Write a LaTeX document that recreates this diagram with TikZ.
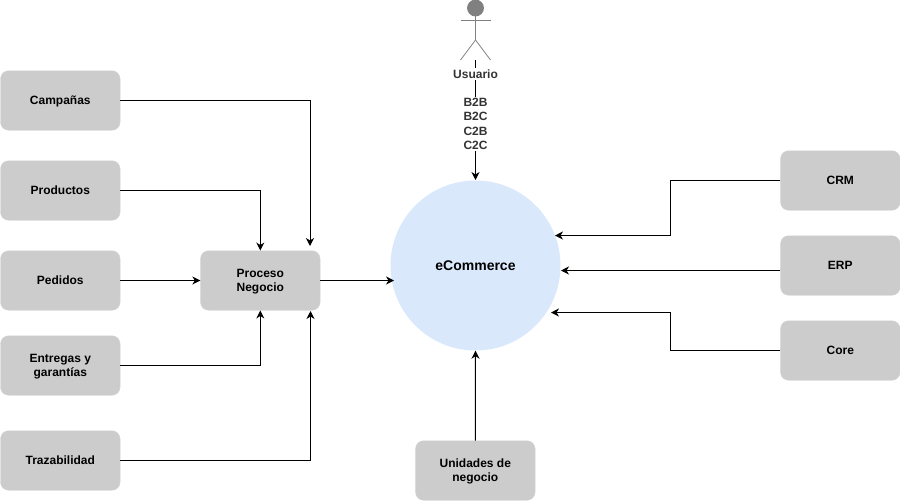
\documentclass[tikz,border=0pt]{standalone}
\usepackage{fontspec}
\setmainfont{Liberation Sans}
\usetikzlibrary{arrows.meta}
\definecolor{boxgray}{HTML}{CCCCCC}
\definecolor{boxline}{HTML}{D4D4D4}
\definecolor{circleblue}{HTML}{DAE8FC}
\definecolor{actorgray}{HTML}{808080}
\definecolor{labelgray}{HTML}{333333}
\newcommand{\lowerline}{\rule{0pt}{11pt}}
\tikzset{
  x=1pt, y=-1pt,
  sysbox/.style={draw=boxline, fill=boxgray, rounded corners=8pt, minimum width=119.5pt,
    minimum height=59.5pt, align=center, inner sep=0pt, font=\fontsize{12}{14.5}\selectfont\bfseries},
  link/.style={draw=black, line width=1pt, -{Stealth[length=8pt,width=8pt,inset=2.5pt]}},
  actorline/.style={draw=actorgray, line width=0.8pt},
  linklabel/.style={fill=white, inner sep=1pt, align=center, text=labelgray,
    font=\fontsize{12}{14.5}\selectfont\bfseries}
}
\begin{document}
\begin{tikzpicture}

    \useasboundingbox (0,0) rectangle (900,501);

    % left column
    \node[sysbox] (campanas) at (60.3,100.5) {\lowerline Campañas};
    \node[sysbox] (productos) at (60.3,190.5) {Productos};
    \node[sysbox] (pedidos) at (60.3,280.5) {Pedidos};
    \node[sysbox] (entregas) at (60.3,365.5) {\lowerline Entregas y\\garantías};
    \node[sysbox] (trazabilidad) at (60.3,460.5) {Trazabilidad};

    \node[sysbox] (proceso) at (260.3,280.5) {\lowerline Proceso\\Negocio};

    % right column
    \node[sysbox] (crm) at (840.3,180.5) {CRM};
    \node[sysbox] (erp) at (840.3,265.5) {ERP};
    \node[sysbox] (core) at (840.3,350.5) {Core};

    \node[sysbox] (unidades) at (475.3,470.5) {\lowerline Unidades de\\negocio};

    \node[circle, fill=circleblue, minimum size=170pt, inner sep=0pt,
      font=\fontsize{14}{16}\selectfont\bfseries] (ecommerce) at (475.5,265.5) {eCommerce};

    % actor
    \coordinate (neck) at (475.5,16);
    \coordinate (hip) at (475.5,40);
    \coordinate (actorfoot) at (475.5,60);
    \draw[actorline, fill=actorgray] (475.5,8) circle (8pt);
    \draw[actorline] (neck) -- (hip) -- (460.5,60);
    \draw[actorline] (hip) -- (490.5,60);
    \draw[actorline] (460.5,20.5) -- (490.5,20.5);

    \draw[link] (actorfoot) -- (475.5,180);
    \node[linklabel, inner ysep=2pt] (usuario) at (475.5,74) {Usuario};
    \node[linklabel] (tipos) at (475.5,124) {B2B\\B2C\\C2B\\C2C};

    \coordinate (campanasin) at (310,246);
    \coordinate (trazabilidadin) at (310.5,311);
    \coordinate (ecommercein) at (394,280.5);
    \draw[link] (campanas.east) -| (campanasin);
    \draw[link] (productos.east) -| (proceso.north);
    \draw[link] (pedidos.east) -- (proceso.west);
    \draw[link] (entregas.east) -| (proceso.south);
    \draw[link] (trazabilidad.east) -| (trazabilidadin);
    \draw[link] (proceso.east) -- (ecommercein);

    \coordinate (crmin) at (555,235.5);
    \coordinate (erpin) at (561,270.5);
    \coordinate (corein) at (551,312.5);
    \draw[link] (crm.west) -- (670.5,180.5) -- (670.5,235.5) -- (crmin);
    \draw[link] (erp.west |- erpin) -- (erpin);
    \draw[link] (core.west) -- (670.5,350.5) -- (670.5,312.5) -- (corein);
    \draw[link] (unidades.north) -- (ecommerce.south);

\end{tikzpicture}
\end{document}
